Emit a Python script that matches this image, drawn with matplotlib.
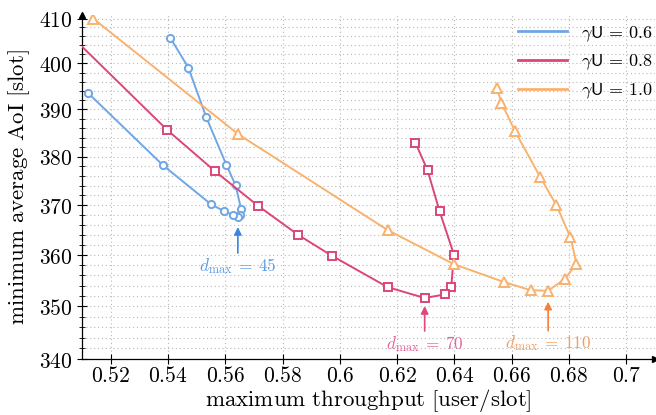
import numpy as np
import matplotlib
matplotlib.use('Agg')
import matplotlib.pyplot as plt
from matplotlib.ticker import FixedLocator, FuncFormatter, NullFormatter
from matplotlib.lines import Line2D

plt.rcParams['mathtext.fontset'] = 'cm'
plt.rcParams['font.family'] = 'serif'

# gamma*U = 0.6 (circles)
thr_06 = [0.5408, 0.5471, 0.5534, 0.5604, 0.5636, 0.5655, 0.5651, 0.5644,
          0.5627, 0.5596, 0.5550, 0.5383, 0.5122]
aoi_06 = [405.7, 399.1, 388.3, 378.3, 374.1, 369.3, 368.1, 367.6,
          368.0, 368.8, 370.2, 378.2, 393.5]

# gamma*U = 0.8 (squares)
thr_08 = [0.6264, 0.6306, 0.6348, 0.6398, 0.6389, 0.6368, 0.6296, 0.6167,
          0.5971, 0.5855, 0.5714, 0.5564, 0.5398, 0.5000]
aoi_08 = [382.9, 377.2, 368.8, 360.1, 353.8, 352.3, 351.6, 353.7,
          359.9, 364.0, 369.9, 377.0, 385.6, 410.0]

# gamma*U = 1.0 (triangles)
thr_10 = [0.6548, 0.6564, 0.6611, 0.6699, 0.6756, 0.6805, 0.6826, 0.6785,
          0.6727, 0.6666, 0.6573, 0.6398, 0.6169, 0.5646, 0.5139]
aoi_10 = [394.6, 391.5, 385.4, 375.8, 370.0, 363.5, 358.3, 355.3,
          353.0, 353.1, 354.7, 358.2, 364.9, 384.7, 410.0]

labels = ['0.6', '0.8', '1.0']
dmax = [45, 70, 110]

colors = ['#6fa6e6', '#dc4677', '#f9b26e']
arrow_colors = ['#3d86de', '#e0477c', '#f4823c']
text_colors = ['#5f9be2', '#e5679a', '#f39f62']
markers = ['o', 's', '^']
msizes = [5.2, 5.6, 7.5]
# arrow tip gap, arrow tail, text offset (points below the minimum point)
offs = [(7.2, -25.9, -35.3), (5.8, -23.8, -32.8), (7.9, -28.8, -37.8)]

fig = plt.figure(figsize=(6.56, 4.15), dpi=100)
ax = fig.add_axes([82/656, 1-359/415, (655-82)/656, (359-15)/415])

series = [(thr_06, aoi_06), (thr_08, aoi_08), (thr_10, aoi_10)]
for i, (x, y) in enumerate(series):
    ax.plot(x, y, color=colors[i], lw=1.4, marker=markers[i], ms=msizes[i],
            mfc='white', mec=colors[i], mew=1.4, zorder=3)
    k = int(np.argmin(y))
    tip, tail, toff = offs[i]
    ax.annotate('', xy=(x[k], y[k]), xytext=(0, tail), textcoords='offset points',
                arrowprops=dict(arrowstyle='-|>', color=arrow_colors[i], lw=1.2,
                                mutation_scale=11, shrinkA=0, shrinkB=tip))
    ax.annotate(r'$d_{\max}\:=\:%d$' % dmax[i], xy=(x[k], y[k]), xytext=(0, toff),
                textcoords='offset points', ha='center', va='center',
                color=text_colors[i], fontsize=12.5)

ax.set_yscale('log')
ax.set_xlim(0.51, 0.71)
ax.set_ylim(340, 410.8)

ax.xaxis.set_major_locator(FixedLocator(np.arange(0.52, 0.701, 0.02)))
ax.yaxis.set_major_locator(FixedLocator(np.arange(340, 411, 10)))
ax.yaxis.set_minor_locator(FixedLocator([v for v in range(340, 411, 2) if v % 10]))
ax.xaxis.set_major_formatter(FuncFormatter(lambda v, p: r'$%g$' % round(v, 2)))
ax.yaxis.set_major_formatter(FuncFormatter(lambda v, p: r'$%d$' % round(v)))
ax.yaxis.set_minor_formatter(NullFormatter())

ax.tick_params(which='major', direction='inout', length=7, width=0.8, labelsize=15.5)
ax.tick_params(axis='x', pad=1)
ax.tick_params(which='minor', direction='inout', length=5, width=0.6)

ax.grid(which='major', axis='x', ls=(0, (1, 2.5)), color='#b8b8b8', lw=0.8)
ax.grid(which='both', axis='y', ls=(0, (1, 2.5)), color='#b8b8b8', lw=0.8)
ax.set_axisbelow(True)

for s in ['top', 'right']:
    ax.spines[s].set_visible(False)
for s in ['left', 'bottom']:
    ax.spines[s].set_linewidth(0.9)
ax.plot(1, 0, '>k', ms=4, transform=ax.transAxes, clip_on=False)
ax.plot(0, 1, '^k', ms=4, transform=ax.transAxes, clip_on=False)

ax.set_xlabel(r'$\mathrm{maximum\ throughput\ [user/slot]}$', fontsize=16.5, labelpad=0)
ax.set_ylabel(r'$\mathrm{minimum\ average\ AoI\ [slot]}$', fontsize=16.5, labelpad=5)

handles = [Line2D([], [], color=c, lw=2) for c in colors]
ax.legend(handles, [r'$\gamma\mathsf{U}\,=\,%s$' % l for l in labels],
          loc='upper right', bbox_to_anchor=(655/656, 1-22/415),
          bbox_transform=fig.transFigure, frameon=False, fontsize=13,
          handlelength=2.7, handletextpad=0.8, labelspacing=0.5,
          borderaxespad=0.0, borderpad=0.1)

fig.savefig('out.png', dpi=100)
